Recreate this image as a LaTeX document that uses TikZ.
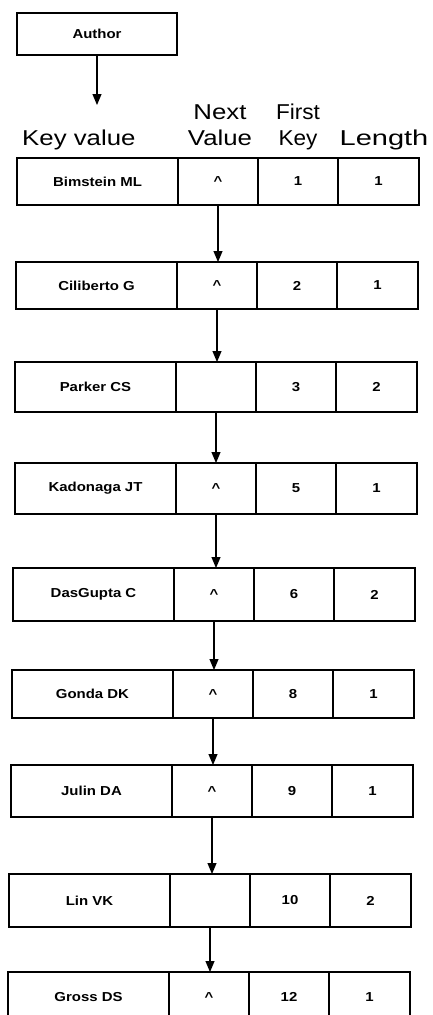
\documentclass[tikz,border=0pt]{standalone}
\usepackage{fontspec}
\setmainfont{Liberation Sans}
\usepackage{graphicx}
\usetikzlibrary{arrows.meta}
\newcommand\sx[2][1.15]{\scalebox{#1}[1]{#2}}
\newcommand\tabrow[8]{%
  \node[cell, minimum width=161pt, minimum height=#4pt] (#1a) at (#2,-#3) {\sx{#5}};
  \node[cell, minimum width=80pt, minimum height=#4pt] (#1b) at (#1a.north east) {\sx{#6}};
  \node[cell, minimum width=80pt, minimum height=#4pt] (#1c) at (#1b.north east) {\sx{#7}};
  \node[cell, minimum width=81pt, minimum height=#4pt] (#1d) at (#1c.north east) {\sx{#8}};
}
\begin{document}
\begin{tikzpicture}[x=1pt,y=1pt,
  cell/.style={draw, line width=1.2pt, anchor=north west, inner sep=0pt, outer sep=0pt,
    font=\fontsize{13}{15}\selectfont\bfseries},
  hdr/.style={anchor=base, inner sep=0pt, font=\fontsize{21.5}{25}\selectfont},
  arr/.style={line width=1.1pt, -{Triangle[width=9pt,length=11pt]}}]
\useasboundingbox (0,0) rectangle (433,-1015);
\clip (0,0) rectangle (433,-1015);
\node[cell, minimum width=160pt, minimum height=42pt] (author) at (17,-13) {\sx{Author}};
\coordinate (authtip) at ([yshift=-50pt]author.south);
\draw[arr] (author.south) -- (authtip);
\node[hdr, anchor=base west] (hkey) at (22,-145) {\sx[1.2]{Key value}};
\node[hdr] (hnext1) at (220,-119) {\sx[1.2]{Next}};
\node[hdr] (hnext2) at (220,-145) {\sx[1.2]{Value}};
\node[hdr] (hfirst1) at (298,-119) {\sx[1.05]{First}};
\node[hdr] (hfirst2) at (298,-145) {\sx[1.05]{Key}};
\node[hdr] (hlen) at (384,-145) {\sx[1.35]{Length}};
\tabrow{r1}{17}{158}{47}{Bimstein ML}{\textasciicircum}{1}{1}
\tabrow{r2}{16}{262}{47}{Ciliberto G}{\textasciicircum}{2}{1}
\tabrow{r3}{15}{362}{50}{Parker CS}{}{3}{2}
\tabrow{r4}{15}{463}{51}{Kadonaga JT}{\textasciicircum}{5}{1}
\tabrow{r5}{13}{568}{53}{DasGupta C}{\textasciicircum}{6}{2}
\tabrow{r6}{12}{670}{48}{Gonda DK}{\textasciicircum}{8}{1}
\tabrow{r7}{11}{765}{52}{Julin DA}{\textasciicircum}{9}{1}
\tabrow{r8}{9}{874}{53}{Lin VK}{}{10}{2}
\tabrow{r9}{8}{972}{50}{Gross DS}{\textasciicircum}{12}{1}
\draw[arr] (r1b.south) -- (r1b.south |- r2b.north);
\draw[arr] (r2b.south) -- (r2b.south |- r3b.north);
\draw[arr] (r3b.south) -- (r3b.south |- r4b.north);
\draw[arr] (r4b.south) -- (r4b.south |- r5b.north);
\draw[arr] (r5b.south) -- (r5b.south |- r6b.north);
\draw[arr] (r6b.south) -- (r6b.south |- r7b.north);
\draw[arr] (r7b.south) -- (r7b.south |- r8b.north);
\draw[arr] (r8b.south) -- (r8b.south |- r9b.north);
\end{tikzpicture}
\end{document}
